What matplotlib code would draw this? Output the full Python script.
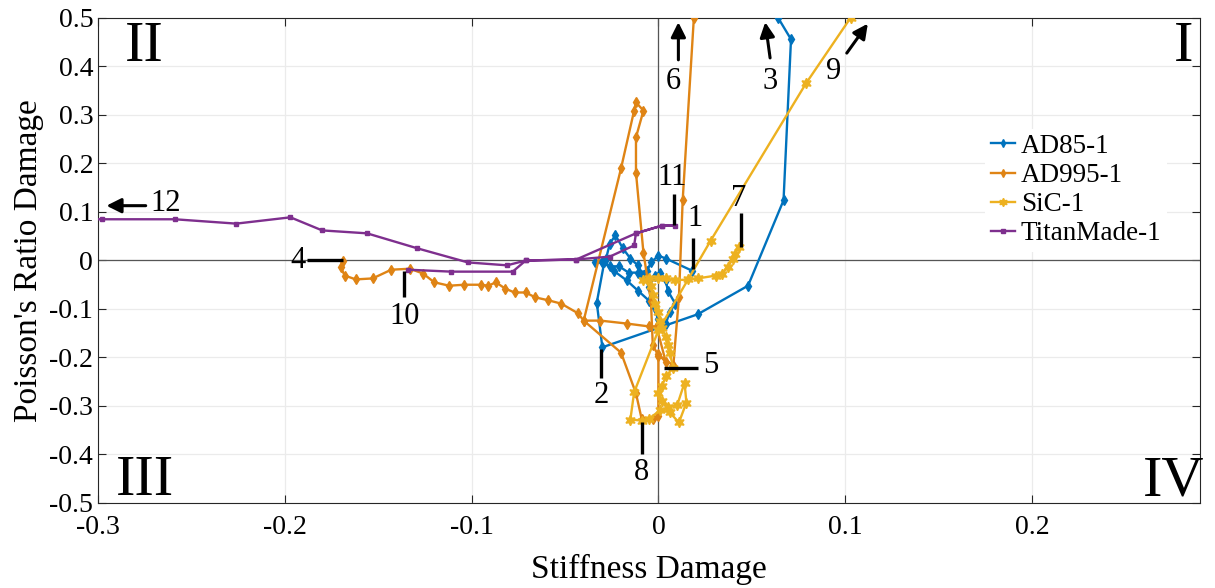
import numpy as np
import matplotlib.pyplot as plt

plt.rcParams['font.family'] = ['Liberation Serif', 'DejaVu Serif']
plt.rcParams['mathtext.fontset'] = 'stix'

# damage paths (stiffness damage, poisson's ratio damage)
ad85_x = [0.018, 0.004, 0.000, -0.004, -0.006, -0.011, -0.016, -0.021, -0.026, -0.030,
          -0.034, -0.028, -0.026, -0.023, -0.019, -0.015, -0.011, -0.008, -0.005, -0.002,
          0.001, 0.004, 0.005, 0.009, 0.006, 0.004, 0.000, -0.005, -0.011, -0.017,
          -0.024, -0.029, -0.033, -0.030, 0.021, 0.048, 0.067, 0.071, 0.064, 0.062]
ad85_y = [-0.021, 0.004, 0.010, -0.004, -0.021, -0.025, -0.025, -0.012, -0.012, -0.004,
          -0.004, 0.004, 0.035, 0.052, 0.025, 0.004, -0.010, -0.031, -0.054, -0.031,
          -0.025, -0.041, -0.062, -0.089, -0.107, -0.130, -0.120, -0.083, -0.062, -0.041,
          -0.021, -0.004, -0.087, -0.179, -0.111, -0.052, 0.124, 0.456, 0.501, 0.526]

ad995_x = [-0.169, -0.170, -0.168, -0.162, -0.153, -0.143, -0.133, -0.126, -0.120, -0.112,
           -0.104, -0.095, -0.091, -0.087, -0.082, -0.077, -0.071, -0.066, -0.059, -0.052,
           -0.043, -0.040, -0.020, -0.012, -0.009, -0.003, 0.000, 0.000, 0.004, -0.001,
           -0.005, -0.017, -0.031, -0.040, -0.020, -0.013, -0.012, -0.008, -0.012, -0.012,
           -0.008, -0.004, -0.003, 0.000, 0.008, 0.011, 0.013, 0.019, 0.020]
ad995_y = [-0.002, -0.014, -0.031, -0.039, -0.037, -0.019, -0.017, -0.027, -0.045, -0.052,
           -0.050, -0.050, -0.052, -0.045, -0.058, -0.066, -0.066, -0.076, -0.082, -0.089,
           -0.109, -0.124, -0.190, -0.274, -0.326, -0.326, -0.320, -0.192, -0.210, -0.136,
           -0.136, -0.130, -0.124, -0.124, 0.190, 0.309, 0.326, 0.309, 0.254, 0.181,
           0.016, -0.083, -0.175, -0.196, -0.216, -0.076, 0.124, 0.501, 0.557]

sic_x = [0.043, 0.041, 0.040, 0.037, 0.034, 0.031, 0.021, 0.016, 0.009, 0.004,
         0.000, -0.005, -0.008, -0.004, -0.003, -0.002, 0.000, 0.001, 0.002, 0.004,
         0.005, 0.006, 0.008, 0.004, 0.002, 0.000, 0.002, 0.005, 0.010, 0.014,
         0.015, 0.011, 0.006, 0.001, -0.005, -0.009, -0.015, -0.013, 0.000, 0.028,
         0.079, 0.103, 0.112]
sic_y = [0.027, 0.014, 0.004, -0.014, -0.027, -0.031, -0.037, -0.039, -0.041, -0.037,
         -0.037, -0.037, -0.041, -0.052, -0.072, -0.089, -0.107, -0.124, -0.140, -0.157,
         -0.175, -0.190, -0.221, -0.239, -0.258, -0.274, -0.289, -0.303, -0.299, -0.252,
         -0.293, -0.334, -0.313, -0.309, -0.326, -0.330, -0.328, -0.272, -0.144, 0.041,
         0.365, 0.501, 0.557]

titan_x = [-0.134, -0.111, -0.078, -0.071, -0.044, -0.026, -0.013, -0.012, 0.002, 0.009,
           0.002, -0.012, -0.044, -0.071, -0.081, -0.102, -0.129, -0.156, -0.180, -0.197,
           -0.226, -0.259, -0.298, -0.330]
titan_y = [-0.019, -0.023, -0.023, 0.000, 0.002, 0.008, 0.031, 0.056, 0.072, 0.072,
           0.072, 0.056, 0.002, 0.000, -0.010, -0.004, 0.025, 0.056, 0.062, 0.089,
           0.076, 0.085, 0.085, 0.085]

labels = ['AD85-1', 'AD995-1', 'SiC-1', 'TitanMade-1']
colors = ['#0072BD', '#DF8415', '#EDB120', '#7E2F8E']

fig = plt.figure(figsize=(12.15, 5.88), dpi=100)
ax = fig.add_axes([0.0807, 0.1446, 0.907, 0.8248])

ax.axhline(0, color='#555555', lw=0.9, zorder=1)
ax.axvline(0, color='#555555', lw=0.9, zorder=1)

ax.plot(ad85_x, ad85_y, '-', marker='d', ms=5, lw=1.7, color=colors[0], label=labels[0], zorder=3)
ax.plot(ad995_x, ad995_y, '-', marker='d', ms=5, lw=1.7, color=colors[1], label=labels[1], zorder=3)
ax.plot(sic_x, sic_y, '-', marker=(6, 1, 0), ms=7.5, lw=1.7, color=colors[2], label=labels[2], zorder=3)
ax.plot(titan_x, titan_y, '-', marker='s', ms=3.5, lw=1.7, color=colors[3], label=labels[3], zorder=3)

ax.set_xlim(-0.3, 0.29)
ax.set_ylim(-0.5, 0.5)
ax.set_xticks([-0.3, -0.2, -0.1, 0, 0.1, 0.2])
ax.set_xticklabels(['-0.3', '-0.2', '-0.1', '0', '0.1', '0.2'])
yt = np.round(np.arange(-0.5, 0.51, 0.1), 1)
ax.set_yticks(yt)
ax.set_yticklabels(['0' if v == 0 else f'{v:.1f}' for v in yt])
ax.tick_params(direction='in', length=6, labelsize=20, top=True, right=True, colors='#262626')
ax.tick_params(axis='x', pad=9)
ax.tick_params(labelcolor='black')
ax.grid(True, color='#ebebeb', lw=0.9, zorder=0)
ax.set_axisbelow(True)
for s in ax.spines.values():
    s.set_color('#262626')
    s.set_linewidth(0.8)

ax.set_xlabel('Stiffness Damage', fontsize=24, labelpad=10)
ax.set_ylabel("Poisson's Ratio Damage", fontsize=24, labelpad=4)

# quadrant numerals
qkw = dict(fontsize=42, ha='center', va='center')
ax.text(-0.275, 0.44, 'II', **qkw)
ax.text(0.281, 0.44, 'I', **qkw)
ax.text(-0.275, -0.455, 'III', **qkw)
ax.text(0.276, -0.455, 'IV', **qkw)

# numbered markers: arrows
akw = dict(arrowstyle='-|>', color='k', lw=2.2, mutation_scale=22)
ax.annotate('', xy=(-0.297, 0.113), xytext=(-0.273, 0.113), arrowprops=akw)
ax.text(-0.264, 0.117, '12', fontsize=22, ha='center', va='center')
ax.annotate('', xy=(0.0107, 0.497), xytext=(0.0107, 0.408), arrowprops=akw)
ax.text(0.008, 0.37, '6', fontsize=22, ha='center', va='center')
ax.annotate('', xy=(0.057, 0.497), xytext=(0.060, 0.412), arrowprops=akw)
ax.text(0.060, 0.37, '3', fontsize=22, ha='center', va='center')
ax.annotate('', xy=(0.113, 0.493), xytext=(0.100, 0.423), arrowprops=akw)
ax.text(0.094, 0.39, '9', fontsize=22, ha='center', va='center')

# numbered markers: plain leader lines
lkw = dict(color='k', lw=2.4, solid_capstyle='butt', zorder=4)
ax.plot([-0.188, -0.169], [0.0, 0.0], **lkw)
ax.text(-0.193, 0.0, '4', fontsize=22, ha='center', va='center')
ax.plot([-0.136, -0.136], [-0.021, -0.076], **lkw)
ax.text(-0.136, -0.115, '10', fontsize=22, ha='center', va='center')
ax.plot([-0.0305, -0.0305], [-0.183, -0.243], **lkw)
ax.text(-0.0305, -0.278, '2', fontsize=22, ha='center', va='center')
ax.plot([-0.009, -0.009], [-0.334, -0.400], **lkw)
ax.text(-0.009, -0.437, '8', fontsize=22, ha='center', va='center')
ax.plot([0.003, 0.021], [-0.221, -0.221], **lkw)
ax.text(0.028, -0.217, '5', fontsize=22, ha='center', va='center')
ax.plot([0.0187, 0.0187], [-0.018, 0.047], **lkw)
ax.text(0.0195, 0.087, '1', fontsize=22, ha='center', va='center')
ax.plot([0.0086, 0.0086], [0.074, 0.138], **lkw)
ax.text(0.0075, 0.171, '11', fontsize=22, ha='center', va='center')
ax.plot([0.044, 0.044], [0.027, 0.097], **lkw)
ax.text(0.043, 0.127, '7', fontsize=22, ha='center', va='center')

leg = ax.legend(loc='upper right', bbox_to_anchor=(0.982, 0.80), fontsize=19.5,
                frameon=True, fancybox=False, edgecolor='none', facecolor='white',
                framealpha=1, handlelength=0.9, handletextpad=0.2, labelspacing=0.15,
                borderpad=0.2, markerscale=0.8)
leg.set_zorder(5)

plt.savefig('out.png', dpi=100)
